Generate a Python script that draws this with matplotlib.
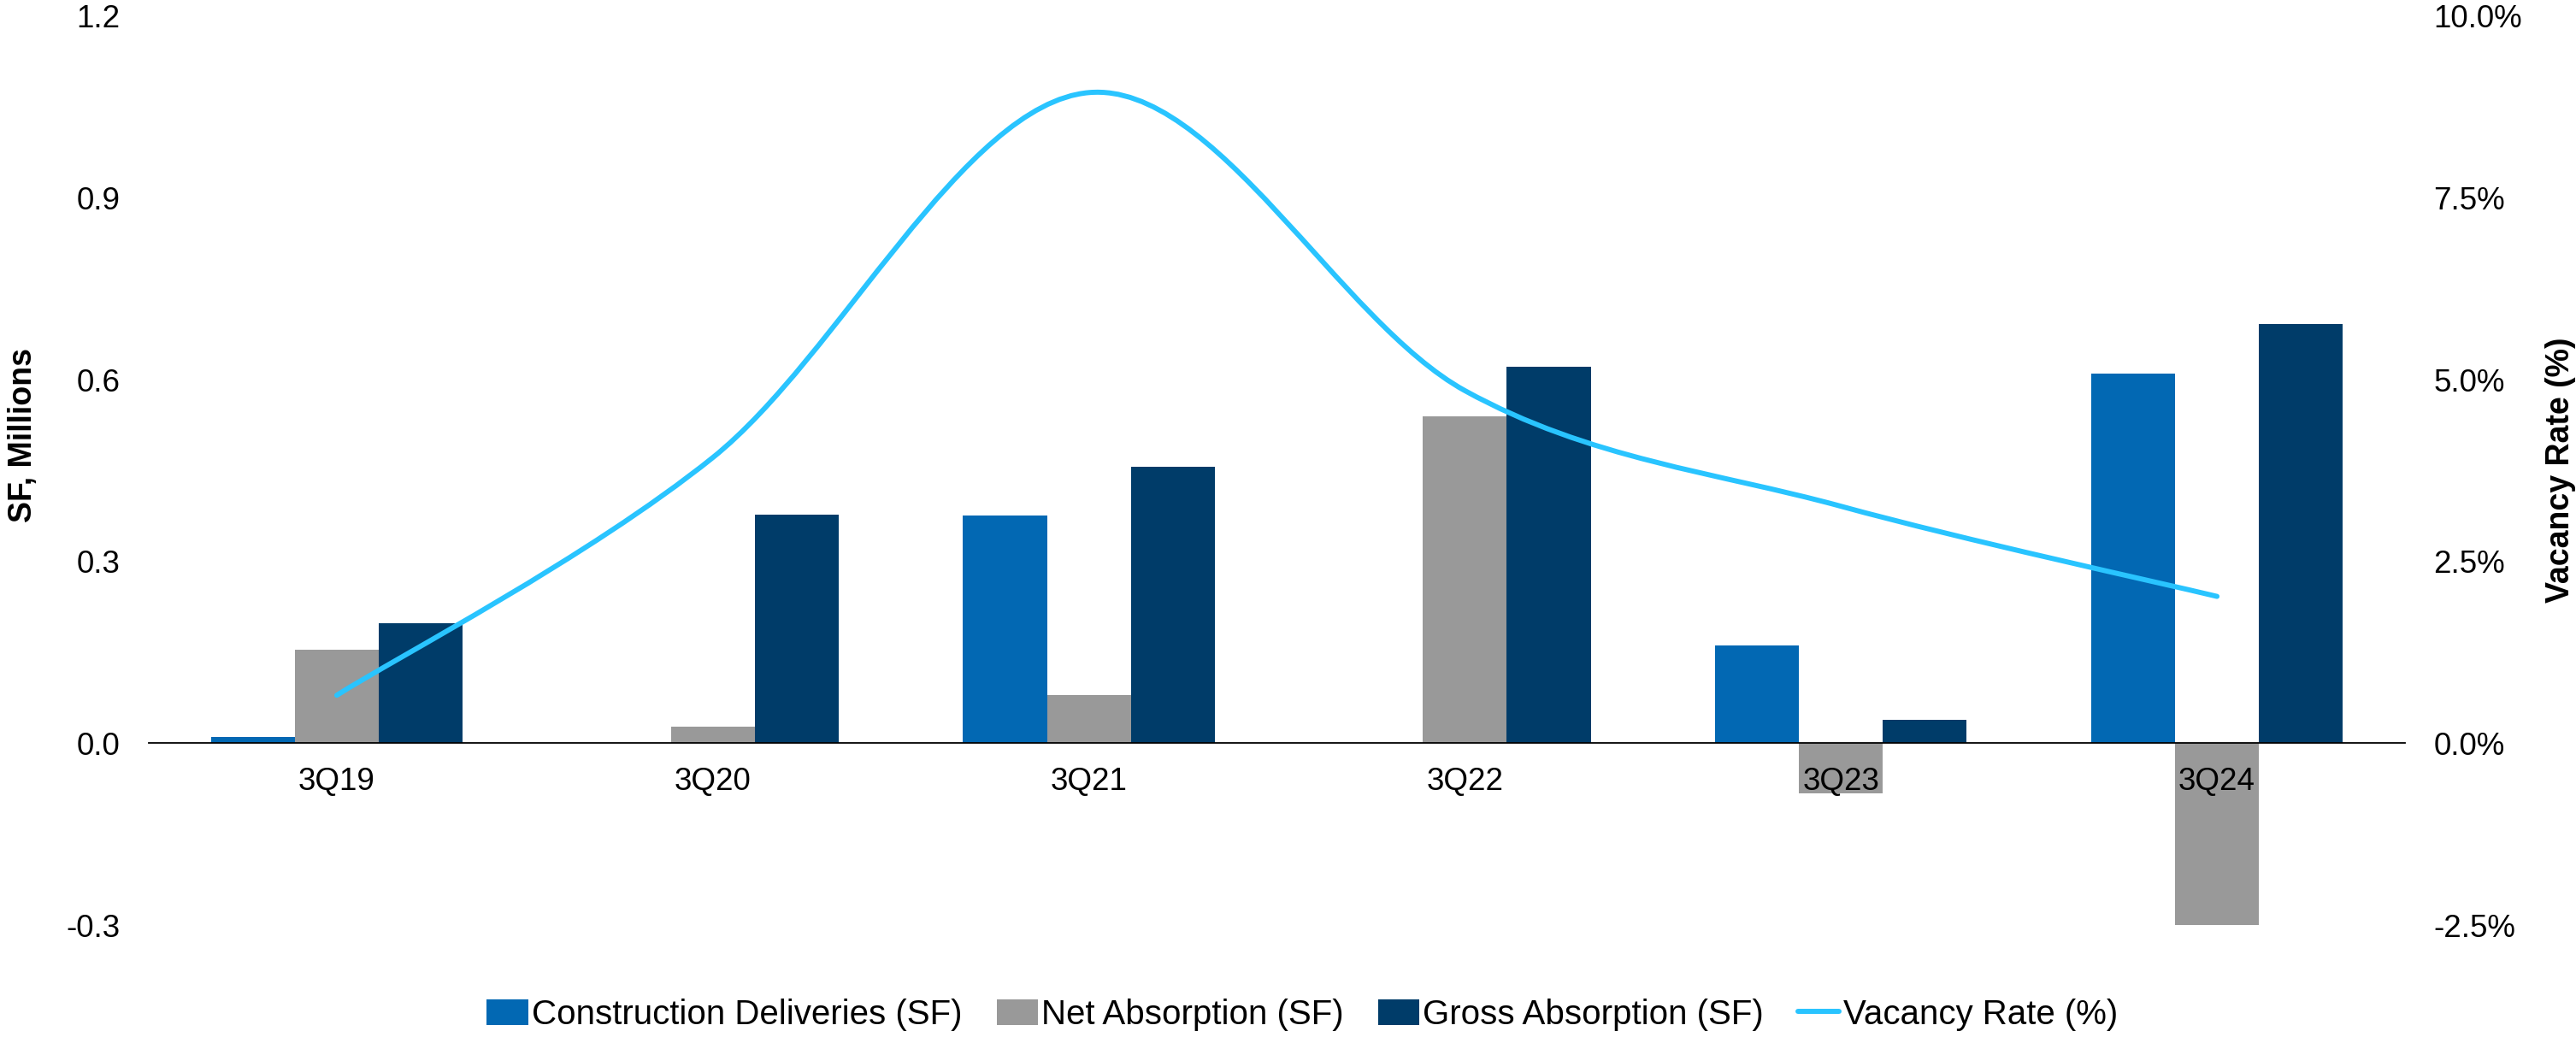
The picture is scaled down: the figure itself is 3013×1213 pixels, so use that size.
import numpy as np
import matplotlib
matplotlib.use("Agg")
import matplotlib.pyplot as plt
from matplotlib.patches import Patch
from matplotlib.lines import Line2D
from matplotlib.path import Path
from matplotlib.patches import PathPatch

plt.rcParams['font.family'] = ['Liberation Sans', 'DejaVu Sans']
plt.rcParams['axes.unicode_minus'] = False

# ---- data ----
quarters = ["3Q19", "3Q20", "3Q21", "3Q22", "3Q23", "3Q24"]
construction_deliveries = [0.010, 0.0, 0.376, 0.0, 0.162, 0.610]   # SF, millions
net_absorption = [0.155, 0.028, 0.080, 0.540, -0.083, -0.302]      # SF, millions
gross_absorption = [0.198, 0.378, 0.456, 0.622, 0.038, 0.692]      # SF, millions
vacancy_rate = [0.66, 3.93, 8.95, 4.85, 3.26, 2.02]                # percent

left_ticks = [-0.3, 0.0, 0.3, 0.6, 0.9, 1.2]
right_ticks = [-2.5, 0.0, 2.5, 5.0, 7.5, 10.0]

c_constr = "#0268B3"
c_net = "#999999"
c_gross = "#003C69"
c_vac = "#29C4FF"

W, H = 3013, 1213
fig = plt.figure(figsize=(W / 100, H / 100), dpi=100)
ax = fig.add_axes([174 / W, 1 - 1082 / H, (2813 - 174) / W, (1082 - 19) / H])

x = np.arange(len(quarters))
bw = 0.223
ax.bar(x - bw, construction_deliveries, bw, color=c_constr, zorder=2)
ax.bar(x, net_absorption, bw, color=c_net, zorder=2)
ax.bar(x + bw, gross_absorption, bw, color=c_gross, zorder=2)

ax.set_xlim(-0.5, len(quarters) - 0.5)
ax.set_ylim(left_ticks[0], left_ticks[-1])
ax.set_yticks(left_ticks)
ax.set_yticklabels([f"{v:.1f}" for v in left_ticks])
ax.set_xticks(x)
ax.set_xticklabels(quarters)
ax.set_axisbelow(False)

for s in ["left", "right", "top"]:
    ax.spines[s].set_visible(False)
ax.spines["bottom"].set_position(("data", 0))
ax.spines["bottom"].set_linewidth(1.3)
ax.spines["bottom"].set_color("black")
ax.spines["bottom"].set_zorder(3)
ax.tick_params(axis="x", length=0, pad=20, labelsize=26.5)
ax.tick_params(axis="y", length=0, pad=24, labelsize=26.5)

# secondary axis for the vacancy rate
ax2 = ax.twinx()
ax2.set_ylim(right_ticks[0], right_ticks[-1])
ax2.set_yticks(right_ticks)
ax2.set_yticklabels([f"{v:.1f}%" for v in right_ticks])
for s in ax2.spines.values():
    s.set_visible(False)
ax2.tick_params(axis="y", length=0, pad=24, labelsize=26.5)

# smoothed vacancy line (cubic Bezier segments through each point)
pts = np.column_stack([x.astype(float), np.array(vacancy_rate, dtype=float)])
ext = np.vstack([pts[0], pts, pts[-1]])
verts = [tuple(pts[0])]
codes = [Path.MOVETO]
for i in range(len(pts) - 1):
    p0, p1, p2, p3 = ext[i], ext[i + 1], ext[i + 2], ext[i + 3]
    c1 = p1 + (p2 - p0) / 6.0
    c2 = p2 - (p3 - p1) / 6.0
    verts += [tuple(c1), tuple(c2), tuple(p2)]
    codes += [Path.CURVE4] * 3
ax2.add_patch(PathPatch(Path(verts, codes), facecolor="none", edgecolor=c_vac,
                        lw=4.3, capstyle="round", joinstyle="round", zorder=4))

fig.text(27 / W, 1 - 509 / H, "SF, Millions", rotation=90, ha="center", va="center",
         fontsize=27, fontweight="bold")
fig.text(2995 / W, 1 - 550 / H, "Vacancy Rate (%)", rotation=90, ha="center", va="center",
         fontsize=27, fontweight="bold")

handles = [
    Patch(facecolor=c_constr, label="Construction Deliveries (SF)"),
    Patch(facecolor=c_net, label="Net Absorption (SF)"),
    Patch(facecolor=c_gross, label="Gross Absorption (SF)"),
    Line2D([0], [0], color=c_vac, lw=4.3, solid_capstyle="round", label="Vacancy Rate (%)"),
]
fig.legend(handles=handles, loc="center", bbox_to_anchor=(0.5055, 1 - 1187 / H), ncol=4,
           frameon=False, fontsize=29, handlelength=1.2, handleheight=0.8,
           handletextpad=0.1, columnspacing=1.0)

fig.savefig("out.png", dpi=100, facecolor="white")
